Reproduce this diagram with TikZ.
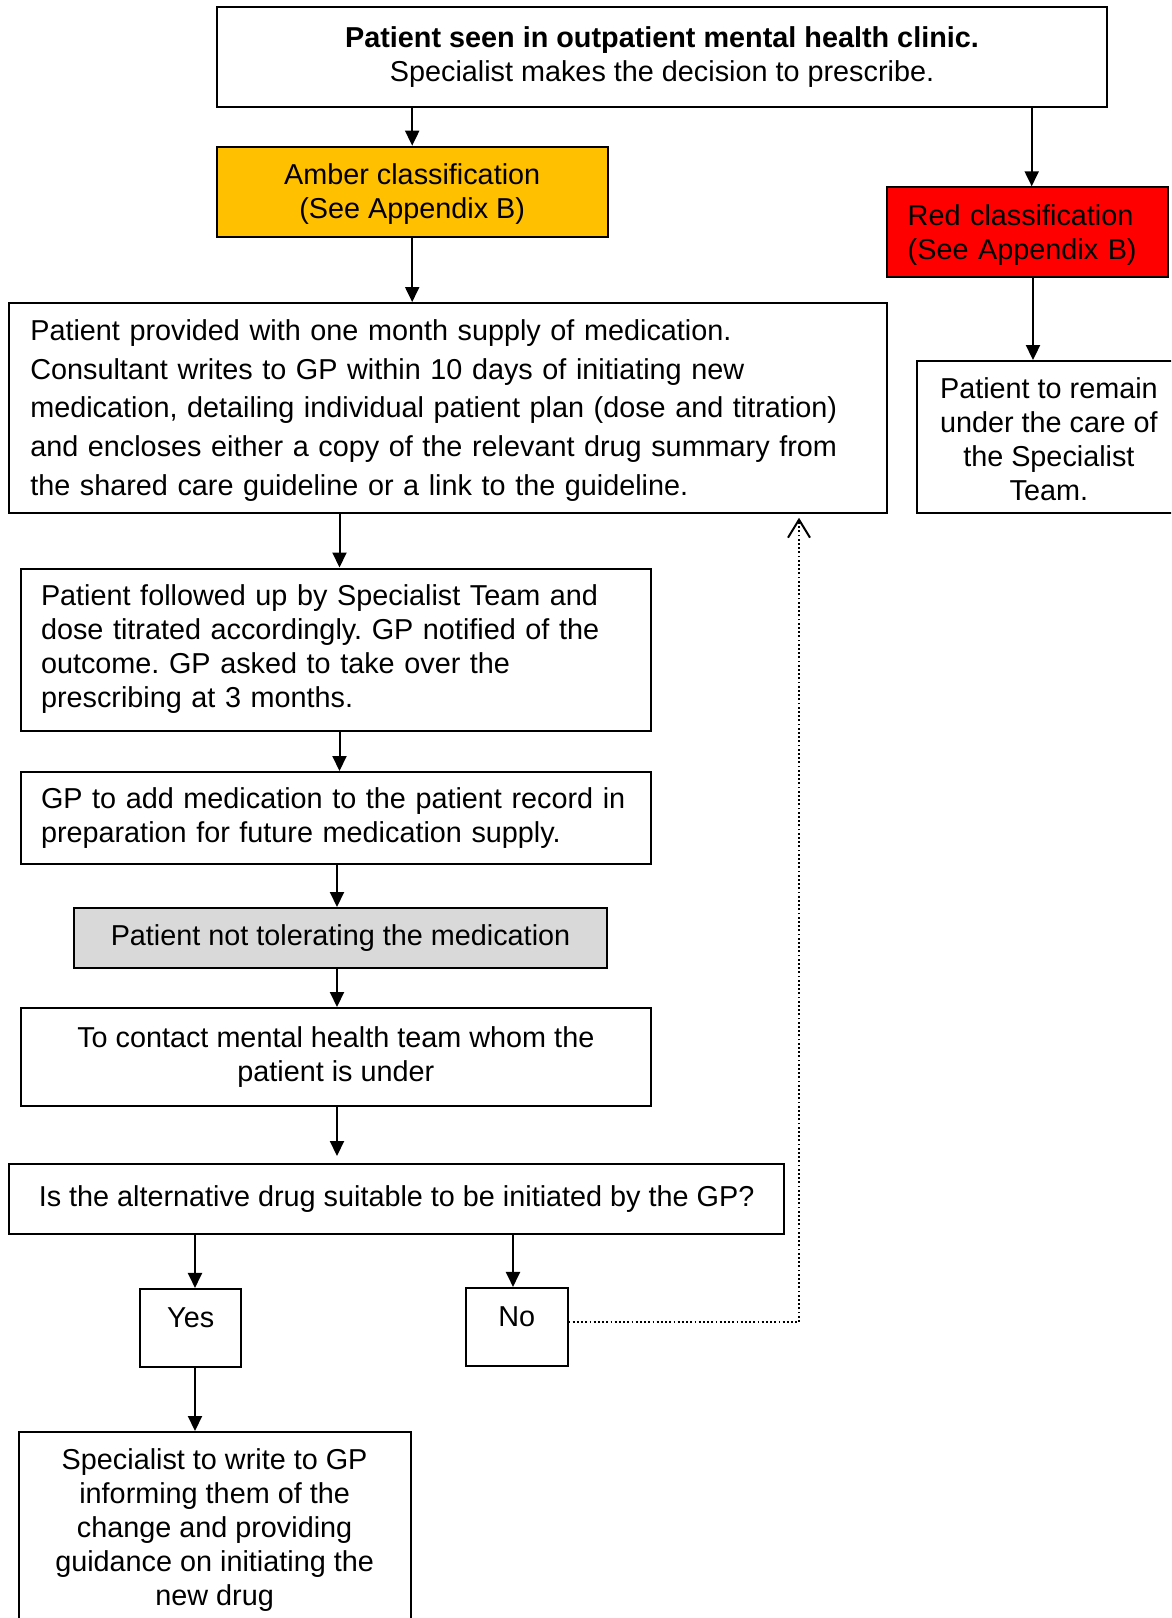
\documentclass[tikz,border=0pt]{standalone}
\usepackage{fontspec}
\setmainfont{Liberation Sans}
\usetikzlibrary{arrows.meta}
\definecolor{amber}{HTML}{FFC000}
\definecolor{redc}{HTML}{FF0000}
\definecolor{grayc}{HTML}{D9D9D9}
\begin{document}
\frenchspacing
\begin{tikzpicture}[x=1pt,y=-1pt,
  every node/.style={inner sep=0pt},
  box/.style={draw, line width=2pt, font=\fontsize{28.8}{34}\selectfont},
  arr/.style={line width=2pt, -{Triangle[length=15pt,width=14pt]}},
  back/.style={line width=1.8pt, dash pattern=on 1.8pt off 2.4pt, -{Straight Barb[length=18pt,width=22pt,line width=2pt]}}]
\path[use as bounding box, clip] (0,0) rectangle (1171,1618);

\node[box, minimum width=890pt, minimum height=100pt, align=center] (top) at (662,56.7)
  {\textbf{Patient seen in outpatient mental health clinic.}\\Specialist makes the decision to prescribe.};
\node[box, fill=amber, minimum width=391pt, minimum height=90pt, align=center] (amber) at (412.2,191.7)
  {\rule{0pt}{26pt}Amber classification\\(See Appendix B)};
\node[box, fill=redc, text width=239pt, inner xsep=21pt, minimum height=89.4pt, align=left] (red) at (1027.2,232)
  {\rule{0pt}{26pt}Red classification\\(See Appendix B)};
\node[box, minimum width=264.3pt, minimum height=151.7pt, align=center] (right) at (1048.9,436.9)
  {\rule{0pt}{26pt}Patient to remain\\under the care of\\the Specialist\\Team.};
\node[box, font=\fontsize{28.8}{38.7}\selectfont, text width=836pt, inner xsep=21pt, minimum height=209.7pt, align=left] (box3) at (448.3,407.9)
  {\rule{0pt}{26pt}Patient provided with one month supply of medication.\\
   Consultant writes to GP within 10 days of initiating new\\
   medication, detailing individual patient plan (dose and titration)\\
   and encloses either a copy of the relevant drug summary from\\
   the shared care guideline or a link to the guideline.};
\node[box, text width=589.6pt, inner xsep=20.4pt, minimum height=162pt, align=left] (box4) at (335.8,649.5)
  {Patient followed up by Specialist Team and\\
   dose titrated accordingly. GP notified of the\\
   outcome. GP asked to take over the\\
   prescribing at 3 months.};
\node[box, text width=589.6pt, inner xsep=20.4pt, minimum height=91.5pt, align=left] (box5) at (335.8,817.75)
  {GP to add medication to the patient record in\\
   preparation for future medication supply.};
\node[box, fill=grayc, minimum width=533pt, minimum height=60pt] (box6) at (340.5,938)
  {Patient not tolerating the medication};
\node[box, minimum width=630.4pt, minimum height=98pt, align=center] (box7) at (335.8,1057)
  {To contact mental health team whom the\\patient is under};
\node[box, minimum width=774.7pt, minimum height=70pt] (box8) at (396.6,1199)
  {Is the alternative drug suitable to be initiated by the GP?};
\node[box, minimum width=101.4pt, minimum height=78.5pt, text depth=22pt] (yes) at (190.7,1328.2) {Yes};
\node[box, minimum width=101.5pt, minimum height=78.5pt, text depth=22pt] (no) at (516.75,1327.2) {No};
\node[box, minimum width=392pt, minimum height=193pt, align=center] (box9) at (214.6,1528.5)
  {\rule{0pt}{24pt}Specialist to write to GP\\informing them of the\\change and providing\\guidance on initiating the\\new drug};

\draw[arr] (top.south -| amber.north) -- (amber.north);
\draw[arr] (amber.south) -- (amber.south |- box3.north);
\draw[arr] ([xshift=4.5pt]red.north |- top.south) -- ([xshift=4.5pt]red.north);
\draw[arr] ([xshift=5.8pt]red.south) -- ([xshift=5.8pt]red.south |- right.north);
\draw[arr] ([xshift=3.7pt]box4.north |- box3.south) -- ([xshift=3.7pt]box4.north);
\draw[arr] ([xshift=3.7pt]box4.south) -- ([xshift=3.7pt]box4.south |- box5.north);
\draw[arr] ([xshift=-3.5pt]box6.north |- box5.south) -- ([xshift=-3.5pt]box6.north);
\draw[arr] ([xshift=-3.5pt]box6.south) -- ([xshift=-3.5pt]box6.south |- box7.north);
\draw[arr, shorten >=7pt] ([xshift=1.2pt]box7.south) -- ([xshift=1.2pt]box7.south |- box8.north);
\draw[arr] ([xshift=4.3pt]yes.north |- box8.south) -- ([xshift=4.3pt]yes.north);
\draw[arr] ([xshift=-3.75pt]no.north |- box8.south) -- ([xshift=-3.75pt]no.north);
\draw[arr] ([xshift=4.3pt]yes.south) -- ([xshift=4.3pt]yes.south |- box9.north);
\draw[back, shorten >=4pt] ([yshift=5pt]no.east) -| ([xshift=350.7pt]box3.south);
\end{tikzpicture}
\end{document}
